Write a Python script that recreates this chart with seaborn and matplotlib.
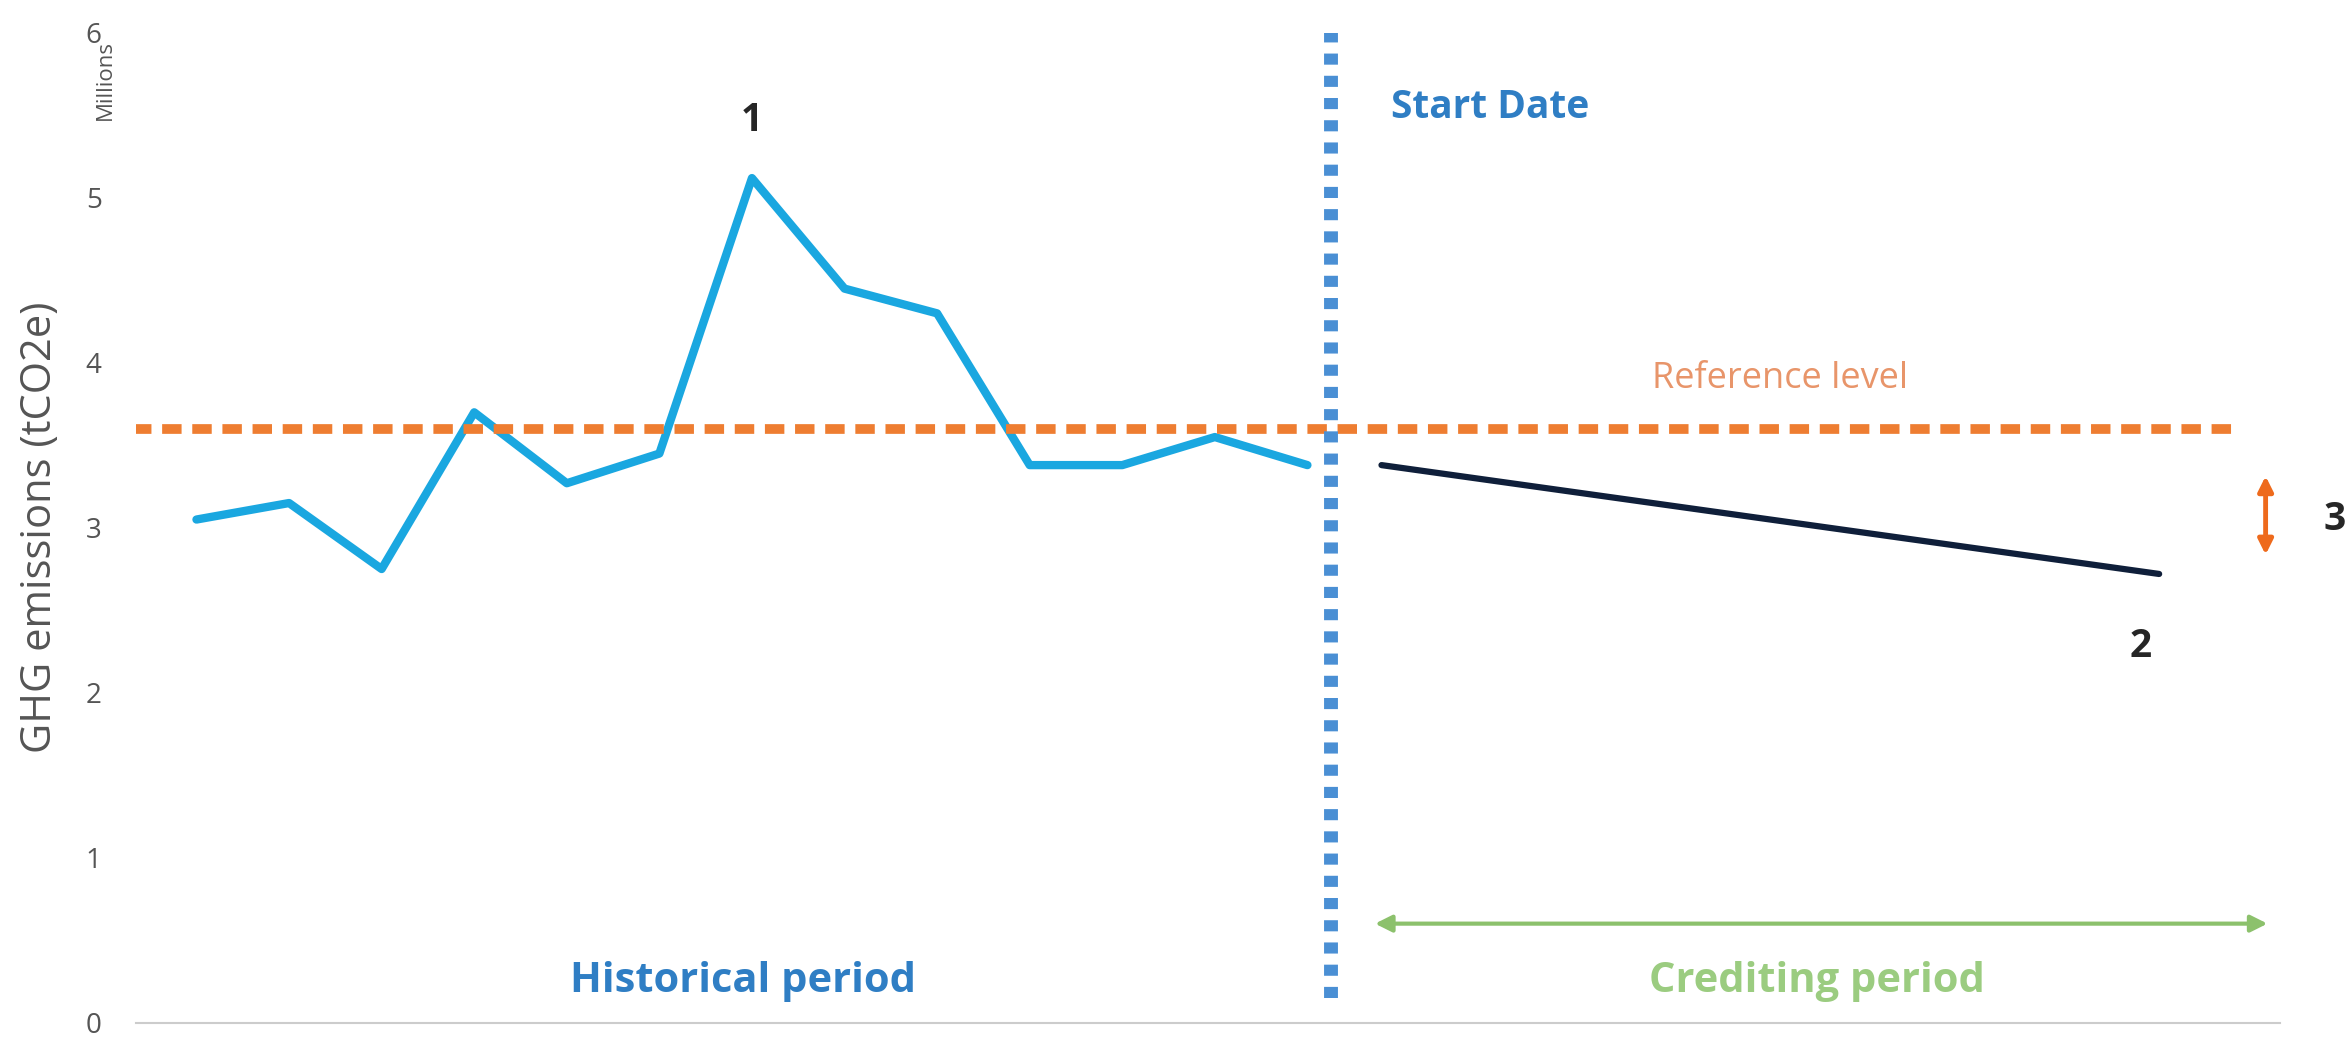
import matplotlib
matplotlib.use("Agg")
import matplotlib.pyplot as plt
import seaborn as sns
import pandas as pd

# historical emissions (millions tCO2e)
hist_x = list(range(13))
hist_y = [3.05, 3.15, 2.75, 3.7, 3.27, 3.45, 5.12, 4.45, 4.3, 3.38, 3.38, 3.55, 3.38]
# projected crediting line
cred_x = [12.8, 21.2]
cred_y = [3.38, 2.72]
ref_level = 3.6
start_x = 12.25
yticks = [0, 1, 2, 3, 4, 5, 6]

sns.set_theme(style="white")
plt.rcParams['font.family'] = ['Open Sans', 'DejaVu Sans']

fig = plt.figure(figsize=(23.5, 10.63), dpi=100)
ax = fig.add_axes([0.058, 0.038, 0.912, 0.931])

df = pd.DataFrame({"x": hist_x, "y": hist_y})
sns.lineplot(data=df, x="x", y="y", ax=ax, color="#1aa7e0", linewidth=6)
ax.plot(cred_x, cred_y, color="#0f1f3a", linewidth=4.5)
ax.plot([-0.7, 22], [ref_level, ref_level], color="#ee7d31", linewidth=7,
        linestyle=(0, (2.0, 1.1)))
ax.plot([start_x, start_x], [0.15, 6.05], color="#4a8fd4", linewidth=10,
        linestyle=(0, (0.8, 0.8)))

ax.annotate("", xy=(-0.7, 0.6), xytext=(11.9, 0.6),
            arrowprops=dict(arrowstyle="<|-|>", color="#4a9ede", lw=3, mutation_scale=25))
ax.annotate("", xy=(12.7, 0.6), xytext=(22.4, 0.6),
            arrowprops=dict(arrowstyle="<|-|>", color="#8cc16c", lw=3, mutation_scale=25))
ax.annotate("", xy=(22.35, 2.82), xytext=(22.35, 3.33),
            arrowprops=dict(arrowstyle="<|-|>", color="#ee6a1c", lw=3.5, mutation_scale=22))

ax.text(5.9, 0.25, "Historical period", color="#2f7ec4", fontsize=30,
        fontweight="bold", ha="center", va="center")
ax.text(17.5, 0.25, "Crediting period", color="#9bcc80", fontsize=30,
        fontweight="bold", ha="center", va="center")
ax.text(12.9, 5.55, "Start Date", color="#2f7ec4", fontsize=28,
        fontweight="bold", ha="left", va="center")
ax.text(17.1, 3.9, "Reference level", color="#e8956a", fontsize=26,
        ha="center", va="center")
ax.text(6.0, 5.47, "1", fontsize=28, fontweight="bold", ha="center", va="center")
ax.text(21.0, 2.28, "2", fontsize=28, fontweight="bold", ha="center", va="center")
ax.text(23.1, 3.05, "3", fontsize=28, fontweight="bold", ha="center", va="center",
        clip_on=False)

ax.set_xlim(-0.65, 22.5)
ax.set_ylim(0, 6)
ax.set_yticks(yticks)
ax.set_yticklabels([str(t) for t in yticks], fontsize=20, color="#555555")
ax.set_xticks([])
ax.set_xlabel("")
ax.set_ylabel("GHG emissions (tCO2e)", fontsize=30, color="#555555", labelpad=18)
ax.tick_params(axis="y", length=0, pad=25)
for s in ["top", "right", "left"]:
    ax.spines[s].set_visible(False)
ax.spines["bottom"].set_color("#cccccc")
ax.spines["bottom"].set_linewidth(1.5)
fig.text(0.045, 0.925, "Millions", rotation=90, fontsize=16, color="#555555",
         ha="center", va="center")

fig.savefig("out.png", dpi=100)
